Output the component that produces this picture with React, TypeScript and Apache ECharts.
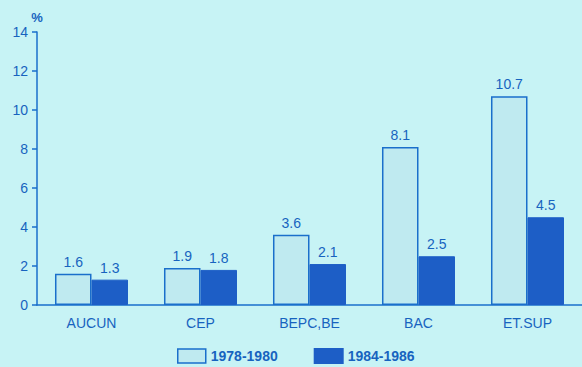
import React, { useEffect, useRef } from "react";
import * as echarts from "echarts";

const categories = ["AUCUN", "CEP", "BEPC,BE", "BAC", "ET.SUP"];
const series1978 = [1.6, 1.9, 3.6, 8.1, 10.7];
const series1984 = [1.3, 1.8, 2.1, 2.5, 4.5];
const seriesNames = ["1978-1980", "1984-1986"];

const BG = "#c7f3f5";
const BLUE = "#1a6fcb";
const TEXT = "#1763bf";

export default function App() {
  const ref = useRef<HTMLDivElement>(null);
  useEffect(() => {
    if (!ref.current) return;
    const chart = echarts.init(ref.current, undefined, { renderer: "svg" });
    chart.setOption({
      animation: false,
      backgroundColor: BG,
      textStyle: { fontFamily: "Liberation Sans, Arial, sans-serif" },
      grid: { left: 37, top: 32, width: 550, height: 273, containLabel: false },
      legend: {
        top: 343,
        left: 172,
        icon: "rect",
        itemWidth: 28,
        itemHeight: 14,
        itemGap: 36,
        textStyle: { color: TEXT, fontSize: 14, fontWeight: "bold" },
        data: [
          { name: seriesNames[0], itemStyle: { color: "#bfeaf0", borderColor: BLUE, borderWidth: 1.5 } },
          { name: seriesNames[1], itemStyle: { color: "#1d5ec6", borderColor: "#1d5ec6" } },
        ],
      },
      xAxis: {
        type: "category",
        data: categories,
        axisLine: { lineStyle: { color: BLUE, width: 1.5 } },
        axisTick: { show: false },
        axisLabel: { color: TEXT, fontSize: 14, margin: 11 },
      },
      yAxis: {
        type: "value",
        min: 0,
        max: 14,
        interval: 2,
        name: "%",
        nameLocation: "end",
        nameGap: 8,
        nameTextStyle: { color: TEXT, fontSize: 13, fontWeight: "bold", align: "center" },
        axisLine: { show: true, lineStyle: { color: BLUE, width: 1.5 } },
        axisTick: { show: true, inside: false, length: 5, lineStyle: { color: BLUE, width: 1.5 } },
        splitLine: { show: false },
        axisLabel: { color: TEXT, fontSize: 14, margin: 9 },
      },
      series: [
        {
          name: seriesNames[0],
          type: "bar",
          data: series1978,
          barGap: "0%",
          barCategoryGap: "33%",
          itemStyle: { color: "#bfeaf0", borderColor: BLUE, borderWidth: 1.5 },
          label: { show: true, position: "top", color: TEXT, fontSize: 14, distance: 5 },
        },
        {
          name: seriesNames[1],
          type: "bar",
          data: series1984,
          itemStyle: { color: "#1d5ec6", borderColor: "#1d5ec6", borderWidth: 1 },
          label: { show: true, position: "top", color: TEXT, fontSize: 14, distance: 5 },
        },
      ],
    });
    return () => chart.dispose();
  }, []);
  return (
    <div
      ref={ref}
      style={{ position: "fixed", left: 0, top: 0, width: 582, height: 367 }}
    />
  );
}
